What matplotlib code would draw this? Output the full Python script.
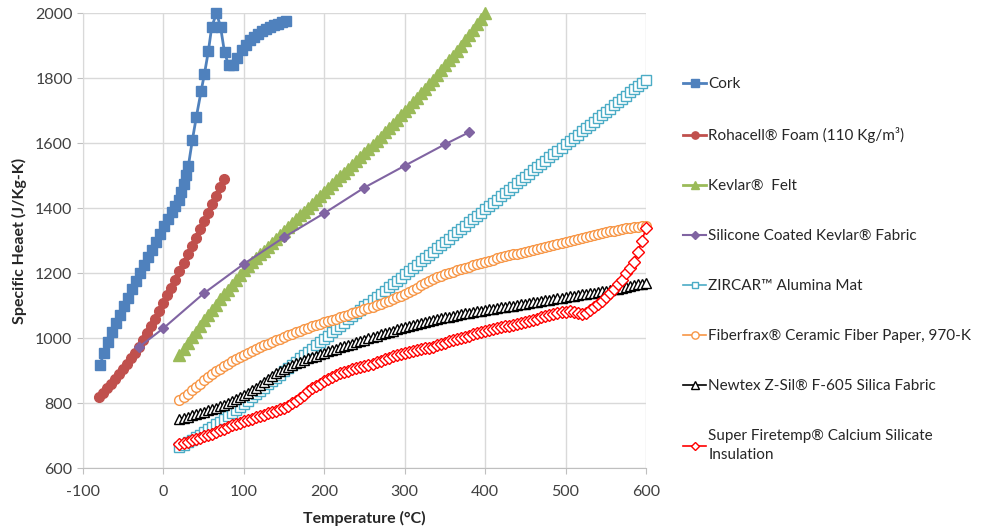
import matplotlib
matplotlib.use("Agg")
import matplotlib.pyplot as plt
import numpy as np

plt.rcParams['font.family'] = ['Lato', 'DejaVu Sans']
plt.rcParams['axes.unicode_minus'] = False

# --- data ---
cork_t = [-79, -74, -69, -64, -59, -54, -49, -44, -39, -34, -29, -24, -19, -14, -9, -4, 1, 6, 11, 15,
          19, 22, 25, 28, 31, 36, 41, 47, 51, 56, 60, 66, 71, 76, 81, 87, 92, 98,
          103, 108, 113, 118, 123, 128, 133, 138, 143, 148, 152]
cork_cp = [917, 953, 988, 1018, 1046, 1072, 1098, 1124, 1150, 1175, 1200, 1224, 1248, 1272, 1296, 1320, 1344, 1366, 1388, 1405,
           1425, 1450, 1475, 1502, 1529, 1609, 1681, 1761, 1812, 1884, 1956, 2000, 1958, 1879, 1840, 1840, 1861, 1886,
           1903, 1916, 1927, 1936, 1944, 1950, 1956, 1962, 1967, 1972, 1976]

roha_t = [-80, -75, -70, -65, -60, -55, -50, -45, -40, -35, -30, -25, -20, -15, -10, -5,
          0, 5, 10, 15, 20, 25, 30, 35, 40, 45, 50, 55, 60, 65, 70, 75]
roha_cp = [819, 831, 845, 859, 873, 889, 905, 921, 938, 955, 972, 993, 1015, 1037, 1060, 1083,
           1107, 1131, 1155, 1180, 1206, 1231, 1257, 1282, 1308, 1334, 1360, 1386, 1412, 1438, 1464, 1488]

kev_t = [20, 25, 30, 35, 40, 45, 50, 55, 60, 65, 70, 75, 80, 85, 90, 95, 100,
         105, 110, 115, 120, 125, 130, 135, 140, 145, 150, 155, 160, 165, 170, 175, 180, 185, 190, 195, 200,
         205, 210, 215, 220, 225, 230, 235, 240, 245, 250, 255, 260, 265, 270, 275, 280, 285, 290, 295, 300,
         305, 310, 315, 320, 325, 330, 335, 340, 345, 350, 355, 360, 365, 370, 375, 380, 385, 390, 395, 400]
kev_cp = [948, 966, 984, 1002, 1020, 1037, 1054, 1071, 1087, 1103, 1119, 1134, 1149, 1164, 1179, 1194, 1208,
          1221, 1233, 1245, 1257, 1269, 1281, 1293, 1305, 1317, 1329, 1341, 1353, 1365, 1377, 1389, 1401, 1413, 1425, 1437, 1449,
          1461, 1473, 1485, 1497, 1509, 1521, 1533, 1545, 1557, 1570, 1582, 1595, 1607, 1620, 1633, 1646, 1659, 1672, 1685, 1699,
          1712, 1726, 1739, 1753, 1767, 1781, 1795, 1809, 1824, 1839, 1854, 1869, 1884, 1900, 1916, 1932, 1949, 1966, 1983, 2000]

sil_t = [-30, 0, 50, 100, 150, 200, 250, 300, 350, 380]
sil_cp = [973, 1030, 1137, 1228, 1310, 1384, 1463, 1530, 1596, 1633]

# dense series share one temperature list
t_hi = [20, 25, 30, 35, 40, 45, 50, 55, 60, 65, 70, 75, 80, 85, 90, 95, 100,
        105, 110, 115, 120, 125, 130, 135, 140, 145, 150, 155, 160, 165, 170, 175, 180, 185, 190, 195, 200,
        205, 210, 215, 220, 225, 230, 235, 240, 245, 250, 255, 260, 265, 270, 275, 280, 285, 290, 295, 300,
        305, 310, 315, 320, 325, 330, 335, 340, 345, 350, 355, 360, 365, 370, 375, 380, 385, 390, 395, 400,
        405, 410, 415, 420, 425, 430, 435, 440, 445, 450, 455, 460, 465, 470, 475, 480, 485, 490, 495, 500,
        505, 510, 515, 520, 525, 530, 535, 540, 545, 550, 555, 560, 565, 570, 575, 580, 585, 590, 595, 600]

zircar_cp = [664, 671, 679, 687, 695, 703, 711, 719, 727, 735, 743, 751, 759, 768, 777, 787, 797,
             807, 817, 827, 837, 847, 857, 867, 877, 887, 897, 907, 917, 927, 937, 947, 957, 967, 977, 987, 997,
             1007, 1017, 1027, 1037, 1047, 1057, 1067, 1077, 1087, 1097, 1106, 1116, 1126, 1136, 1146, 1156, 1166, 1176, 1186, 1196,
             1206, 1216, 1226, 1236, 1246, 1256, 1266, 1276, 1286, 1296, 1306, 1316, 1326, 1336, 1346, 1356, 1366, 1376, 1386, 1396,
             1406, 1416, 1426, 1436, 1446, 1456, 1466, 1476, 1486, 1496, 1506, 1516, 1526, 1536, 1546, 1556, 1566, 1576, 1586, 1596,
             1606, 1616, 1626, 1636, 1646, 1656, 1666, 1676, 1686, 1696, 1706, 1716, 1726, 1736, 1746, 1756, 1766, 1776, 1786, 1794]

fiber_cp = [808, 818, 829, 840, 850, 860, 870, 879, 888, 897, 905, 913, 921, 928, 935, 942, 948,
            954, 960, 966, 972, 977, 983, 988, 993, 998, 1003, 1008, 1013, 1018, 1022, 1027, 1031, 1036, 1040, 1044, 1048,
            1052, 1056, 1060, 1064, 1068, 1072, 1076, 1080, 1084, 1088, 1092, 1096, 1101, 1105, 1110, 1115, 1120, 1125, 1130, 1135,
            1142, 1148, 1155, 1162, 1169, 1176, 1182, 1187, 1192, 1196, 1200, 1204, 1208, 1212, 1216, 1220, 1224, 1228, 1231, 1235,
            1238, 1241, 1245, 1248, 1251, 1254, 1257, 1260, 1263, 1266, 1269, 1272, 1275, 1278, 1281, 1284, 1287, 1290, 1293, 1296,
            1299, 1302, 1305, 1308, 1311, 1314, 1317, 1320, 1323, 1325, 1328, 1330, 1333, 1335, 1337, 1339, 1341, 1343, 1344, 1346]

newtex_cp = [752, 755, 758, 762, 765, 769, 773, 777, 781, 785, 790, 795, 800, 806, 812, 818, 825,
             832, 839, 847, 855, 864, 873, 882, 891, 899, 906, 912, 917, 922, 927, 932, 937, 942, 946, 951, 955,
             959, 963, 967, 971, 975, 979, 983, 987, 991, 995, 999, 1003, 1007, 1011, 1015, 1019, 1023, 1027, 1031, 1035,
             1038, 1041, 1044, 1047, 1050, 1053, 1056, 1059, 1062, 1064, 1066, 1069, 1071, 1073, 1076, 1078, 1080, 1082, 1084, 1086,
             1088, 1090, 1092, 1094, 1096, 1098, 1100, 1102, 1104, 1106, 1108, 1110, 1112, 1114, 1116, 1118, 1120, 1122, 1124, 1126,
             1128, 1130, 1132, 1134, 1136, 1138, 1140, 1142, 1144, 1146, 1148, 1150, 1152, 1155, 1157, 1160, 1162, 1165, 1167, 1170]

fire_cp = [673, 677, 681, 685, 689, 693, 697, 701, 706, 711, 716, 721, 726, 731, 736, 740, 744,
           748, 752, 756, 760, 764, 768, 772, 776, 781, 786, 792, 799, 807, 816, 826, 836, 845, 853, 860, 867,
           874, 880, 886, 891, 896, 900, 904, 907, 910, 914, 918, 921, 925, 930, 935, 940, 944, 948, 951, 955,
           957, 960, 963, 966, 968, 970, 973, 977, 981, 985, 990, 994, 998, 1001, 1004, 1007, 1011, 1015, 1018, 1021,
           1025, 1029, 1032, 1034, 1036, 1038, 1041, 1044, 1047, 1050, 1053, 1056, 1060, 1064, 1068, 1071, 1074, 1076, 1079, 1081,
           1082, 1081, 1077, 1075, 1078, 1085, 1095, 1105, 1115, 1127, 1140, 1152, 1165, 1180, 1200, 1215, 1235, 1265, 1300, 1337]

labels = ["Cork", "Rohacell\u00ae Foam (110 Kg/m\u00b3)", "Kevlar\u00ae  Felt",
          "Silicone Coated Kevlar\u00ae Fabric", "ZIRCAR\u2122 Alumina Mat",
          "Fiberfrax\u00ae Ceramic Fiber Paper, 970-K", "Newtex Z-Sil\u00ae F-605 Silica Fabric",
          "Super Firetemp\u00ae Calcium Silicate\nInsulation"]

fig = plt.figure(figsize=(9.82, 5.29), dpi=100)
ax = fig.add_axes([0.0845, 0.1153, 0.5733, 0.8601])

ax.plot(cork_t, cork_cp, color='#4F81BD', marker='s', ms=7.5, lw=2, label=labels[0], clip_on=False, zorder=3)
ax.plot(roha_t, roha_cp, color='#C0504D', marker='o', ms=7, lw=2, label=labels[1], clip_on=False, zorder=3)
ax.plot(kev_t, kev_cp, color='#9BBB59', marker='^', ms=8, lw=2, label=labels[2], clip_on=False, zorder=3)
ax.plot(sil_t, sil_cp, color='#8064A2', marker='D', ms=5.5, lw=1.5, label=labels[3], clip_on=False, zorder=4)
ax.plot(t_hi, zircar_cp, color='#4BACC6', marker='s', ms=6.5, mfc='white', mew=1, lw=1.2, label=labels[4], clip_on=False, zorder=3)
ax.plot(t_hi, fiber_cp, color='#F79646', marker='o', ms=7, mfc='white', mew=1, lw=1.2, label=labels[5], clip_on=False, zorder=3)
ax.plot(t_hi, newtex_cp, color='black', marker='^', ms=7, mfc='white', mew=1, lw=1.2, label=labels[6], clip_on=False, zorder=3)
ax.plot(t_hi, fire_cp, color='#FF0000', marker='D', ms=6, mfc='white', mew=1, lw=1.2, label=labels[7], clip_on=False, zorder=3)

ax.set_xlim(-100, 600)
ax.set_ylim(600, 2000)
ax.set_xticks(np.arange(-100, 601, 100))
ax.set_yticks(np.arange(600, 2001, 200))
ax.grid(True, color='#D9D9D9', lw=1)
ax.set_axisbelow(True)
for s in ['top', 'right']:
    ax.spines[s].set_visible(False)
ax.spines['left'].set_color('#D9D9D9')
ax.spines['bottom'].set_color('#BFBFBF')
ax.tick_params(direction='out', length=4, color='#BFBFBF', labelsize=11.5, labelcolor='#404040')
ax.tick_params(axis='x', pad=8)
ax.set_xlabel("Temperature (\u00b0C)", fontsize=11.5, fontweight='bold', color='#262626', labelpad=9)
ax.set_ylabel("Specific Heaet (J/Kg-K)", fontsize=11.5, fontweight='bold', color='#262626', labelpad=6)

leg = fig.legend(loc='upper left', bbox_to_anchor=(0.688, 0.868), frameon=False,
                 fontsize=11, labelspacing=2.35, handlelength=1.5, handletextpad=0.15,
                 markerscale=0.75, borderpad=0)
for txt in leg.get_texts():
    txt.set_color('#262626')
    txt.set_linespacing(1.5)

fig.savefig("out.png", dpi=100)
